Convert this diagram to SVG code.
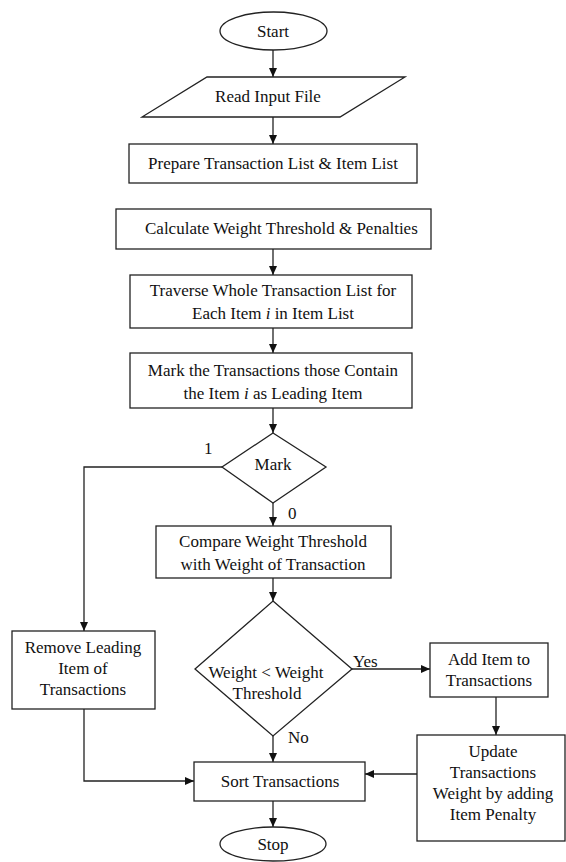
<svg xmlns="http://www.w3.org/2000/svg" width="566" height="862" viewBox="0 0 566 862">
<defs>
<marker id="ah" markerUnits="userSpaceOnUse" markerWidth="10" markerHeight="8" refX="9" refY="4" orient="auto">
<path d="M0,0 L9,4 L0,8 z" fill="#111"/>
</marker>
<style>
.s{fill:#fff;stroke:#222;stroke-width:1.3}
text{font-family:'Liberation Serif','Times New Roman','DejaVu Serif',serif;font-size:17px;fill:#111}
.t{text-anchor:middle}
.c{fill:none;stroke:#222;stroke-width:1.3;marker-end:url(#ah)}
</style>
</defs>
<rect width="566" height="862" fill="#fff"/>
<g id="connectors">
<path class="c" d="M273,50 V77"/>
<path class="c" d="M273,117 V144"/>
<path class="c" d="M273,249 V275"/>
<path class="c" d="M273,328 V353"/>
<path class="c" d="M273,408 V433"/>
<path class="c" d="M222,467 H84 V631"/>
<path class="c" d="M273,503 V526"/>
<path class="c" d="M273,578 V601"/>
<path class="c" d="M352,669 H430"/>
<path class="c" d="M273,736 V762"/>
<path class="c" d="M496,697 V735"/>
<path class="c" d="M417,774 H365"/>
<path class="c" d="M84,709 V781 H194"/>
<path class="c" d="M273,801 V827"/>
<text x="204" y="454">1</text>
<text x="288" y="519">0</text>
<text x="353" y="667">Yes</text>
<text x="288" y="743">No</text>
</g>
<g id="start">
<ellipse class="s" cx="273.5" cy="31" rx="53.5" ry="19"/>
<text class="t" x="273" y="37">Start</text>
</g>
<g id="read">
<polygon class="s" points="207,77 405,77 340,117 142,117"/>
<text class="t" x="268" y="102">Read Input File</text>
</g>
<g id="prepare">
<rect class="s" x="129" y="144" width="288" height="39"/>
<text class="t" x="273" y="169">Prepare Transaction List &amp; Item List</text>
</g>
<g id="calculate">
<rect class="s" x="116" y="209" width="315" height="40"/>
<text x="145" y="234">Calculate Weight Threshold &amp; Penalties</text>
</g>
<g id="traverse">
<rect class="s" x="130" y="275" width="282" height="53"/>
<text class="t" x="273" y="296">Traverse Whole Transaction List for</text>
<text class="t" x="273" y="319">Each Item <tspan font-style="italic">i</tspan> in Item List</text>
</g>
<g id="markbox">
<rect class="s" x="130" y="353" width="282" height="55"/>
<text class="t" x="273" y="376">Mark the Transactions those Contain</text>
<text class="t" x="273" y="399">the Item <tspan font-style="italic">i</tspan> as Leading Item</text>
</g>
<g id="mark">
<polygon class="s" points="273,433 326,467 273,503 222,467"/>
<text class="t" x="273" y="470">Mark</text>
</g>
<g id="compare">
<rect class="s" x="156" y="526" width="235" height="52"/>
<text class="t" x="273" y="547">Compare Weight Threshold</text>
<text class="t" x="273" y="570">with Weight of Transaction</text>
</g>
<g id="weight">
<polygon class="s" points="273,601 352,669 273,736 195,669"/>
<text class="t" x="266" y="678">Weight &lt; Weight</text>
<text class="t" x="267" y="699">Threshold</text>
</g>
<g id="remove">
<rect class="s" x="12" y="631" width="143" height="78"/>
<text class="t" x="83" y="653">Remove Leading</text>
<text class="t" x="83" y="674">Item of</text>
<text class="t" x="83" y="695">Transactions</text>
</g>
<g id="add">
<rect class="s" x="430" y="643" width="118" height="54"/>
<text class="t" x="489" y="665">Add Item to</text>
<text class="t" x="489" y="686">Transactions</text>
</g>
<g id="update">
<rect class="s" x="417" y="735" width="148" height="106"/>
<text class="t" x="493" y="757">Update</text>
<text class="t" x="493" y="778">Transactions</text>
<text class="t" x="493" y="799">Weight by adding</text>
<text class="t" x="493" y="820">Item Penalty</text>
</g>
<g id="sort">
<rect class="s" x="194" y="762" width="171" height="39"/>
<text class="t" x="280" y="787">Sort Transactions</text>
</g>
<g id="stop">
<ellipse class="s" cx="273" cy="844" rx="53" ry="17"/>
<text class="t" x="273" y="850">Stop</text>
</g>
</svg>
